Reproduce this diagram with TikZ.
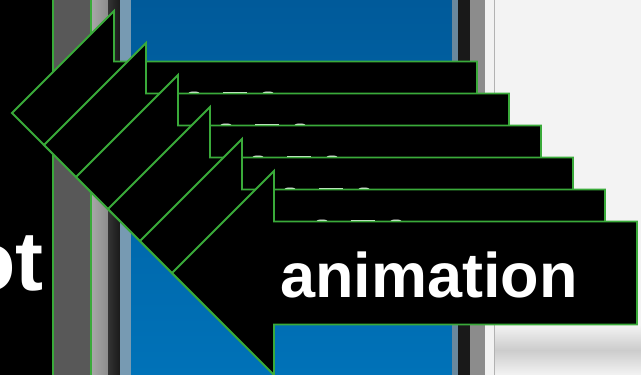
\documentclass[tikz,border=0pt]{standalone}
\usepackage{fontspec}
\setmainfont{Liberation Sans}
\definecolor{arrowgreen}{RGB}{58,170,58}
\definecolor{framegray}{RGB}{88,88,88}
\definecolor{paneltop}{RGB}{0,90,154}
\definecolor{panelbottom}{RGB}{0,114,184}
\definecolor{pageback}{RGB}{243,243,243}

\begin{document}
\begin{tikzpicture}[x=1pt,y=-1pt,
    bigarrow/.style={draw=arrowgreen, line width=1.9pt, fill=black, line join=miter},
    hidden/.style={fill=white, draw=none},
    label/.style={text=white, inner sep=0pt, font=\bfseries\fontsize{63pt}{63pt}\selectfont}
]
\useasboundingbox (0,0) rectangle (641,375);
\clip (0,0) rectangle (641,375);
% backdrop of the slide
\fill[black] (0,0) rectangle (641,375);
\fill[framegray] (53,0) rectangle (91,375);
\draw[arrowgreen, line width=1.9pt] (53,0) -- (53,375) (91,0) -- (91,375);
\shade[left color=black!35, right color=black!45] (92,0) rectangle (108,375);
\shade[left color=black!80, right color=black!90] (108,0) rectangle (120,375);
\fill[paneltop!45!white!85!black] (120,0) rectangle (131,375);
\shade[top color=paneltop, bottom color=panelbottom] (131,0) rectangle (452,375);
\fill[paneltop!45!white!75!black] (452,0) rectangle (458,375);
\fill[black!90] (458,0) rectangle (470,375);
\fill[black!45] (470,0) rectangle (485,375);
\fill[black!5] (485,0) rectangle (494,375);
\draw[black!30, line width=0.8pt] (494,0) -- (494,375);
\fill[pageback] (495,0) rectangle (641,375);
\shade[top color=pageback, bottom color=pageback, middle color=black!20] (495,325) rectangle (641,375);
\node[label, anchor=base east, font=\bfseries\fontsize{84pt}{84pt}\selectfont] (cut) at (44,290) {ot};

% the stack of arrows, back to front
\foreach \k in {0,...,5} {
  \begin{scope}[shift={(32*\k,32*\k)}]
    \draw[bigarrow] (12,113) -- (114,11) -- (114,61.5) -- (477,61.5) -- (477,164.5)
      -- (114,164.5) -- (114,215) -- cycle;
    \ifnum\k<5
      % tops of the hidden labels
      \fill[hidden] (194,93.5) ellipse (6 and 2);
      \fill[hidden] (223,91.5) rectangle (247,93.5);
      \fill[hidden] (268,93.5) ellipse (6 and 2);
    \fi
  \end{scope}
}
\node[label, anchor=base] (anim) at (429,297) {animation};
\end{tikzpicture}
\end{document}
